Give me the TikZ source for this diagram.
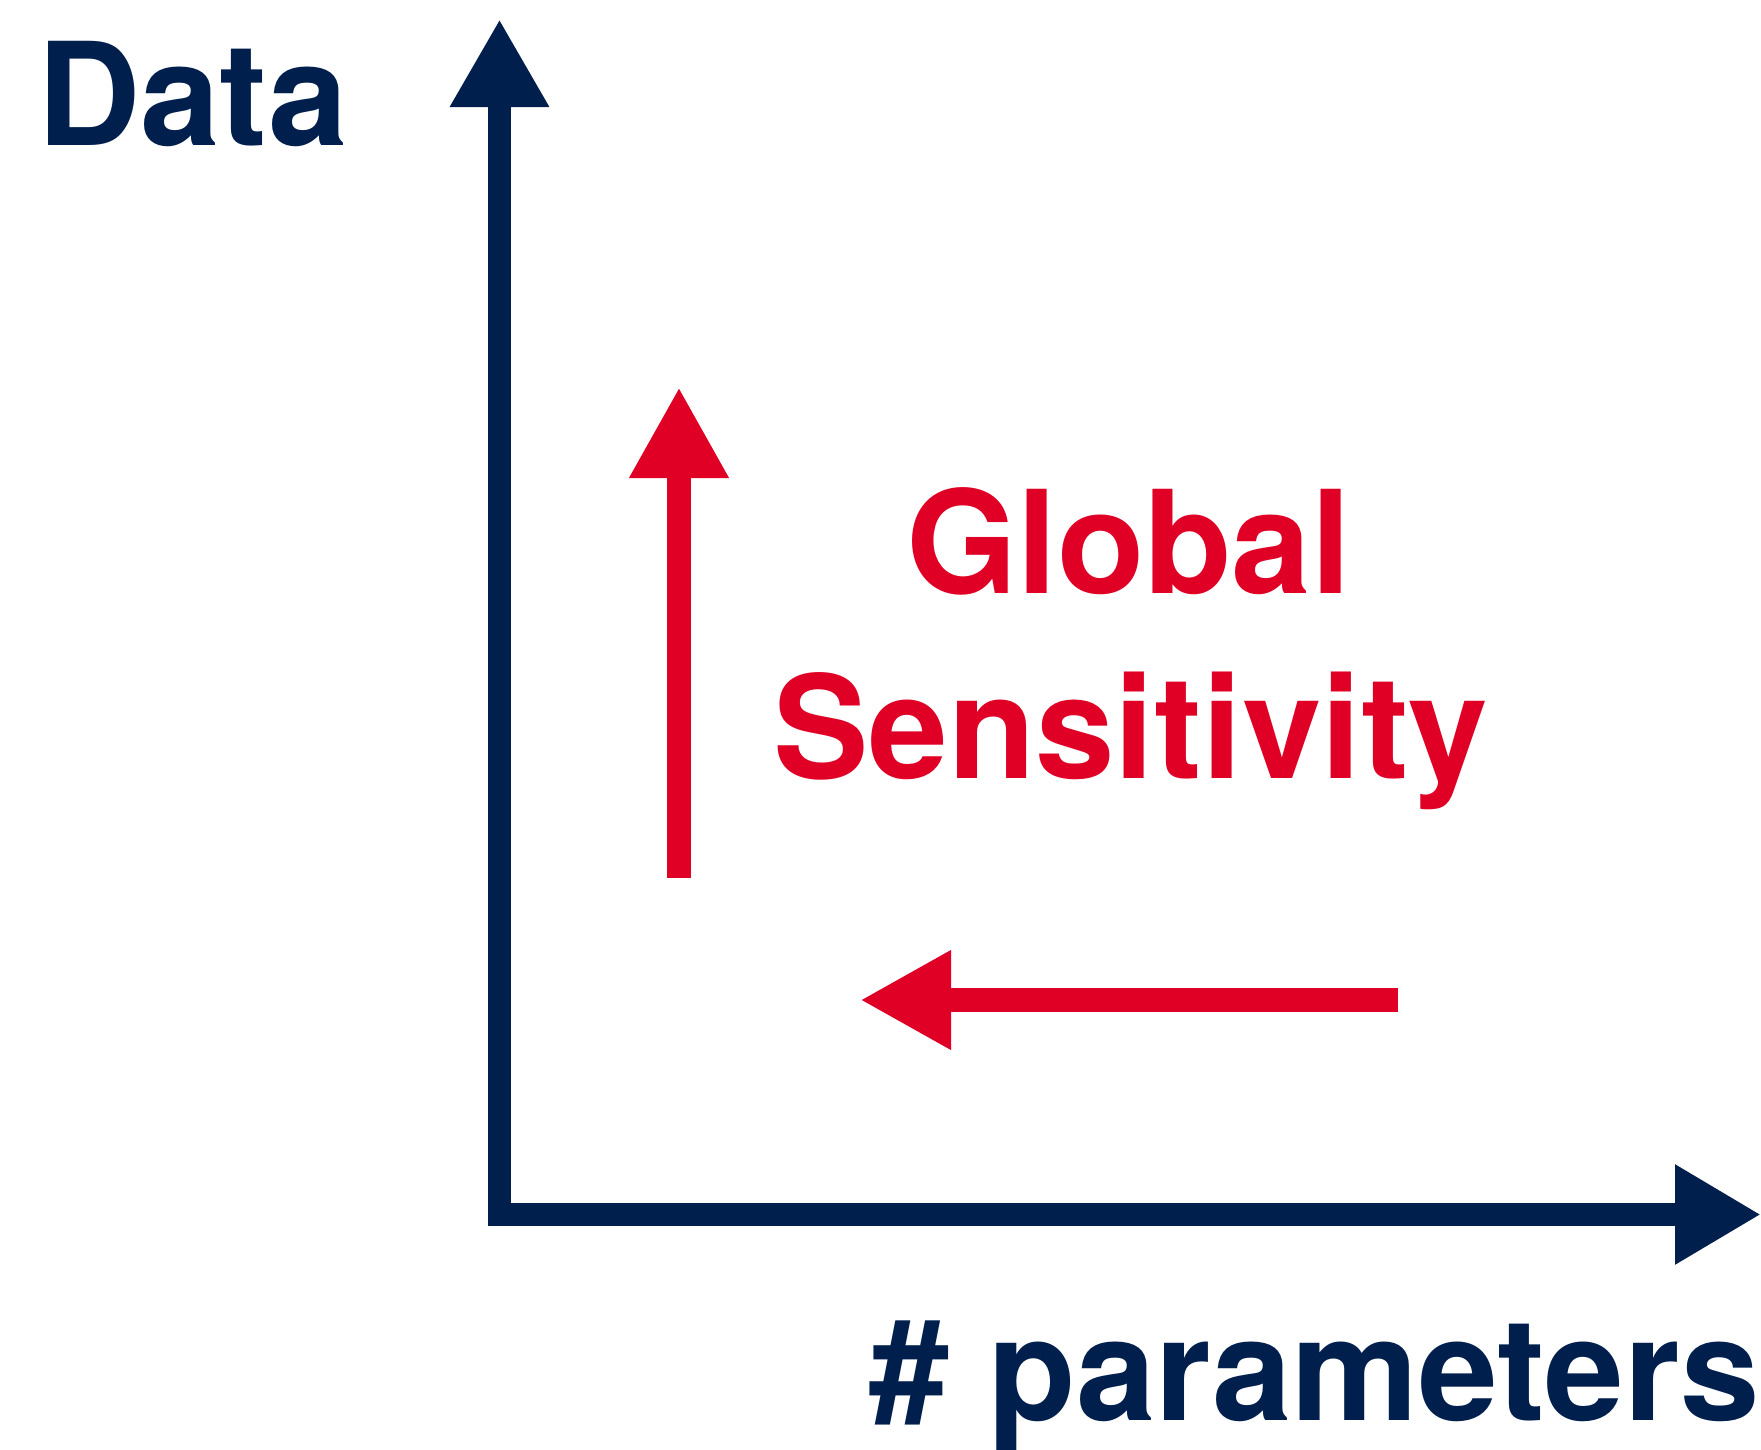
\documentclass[tikz,border=0pt]{standalone}
\usepackage{fontspec}
\setmainfont{TeX Gyre Heros}
\usetikzlibrary{arrows.meta}
\definecolor{navy}{RGB}{0,31,77}
\definecolor{sensred}{RGB}{224,0,37}
\begin{document}
\begin{tikzpicture}[x=1pt,y=-1pt,
  bigtext/.style={inner sep=0pt,font=\fontsize{143}{150}\selectfont\bfseries},
  axis/.style={draw=navy,line width=23pt,line join=miter,
    {Triangle[length=88pt,width=93pt]}-{Triangle[length=86pt,width=94pt]}},
  redarrow/.style={draw=sensred,line width=23.5pt,-{Triangle[length=91pt,width=93pt]}}]
\useasboundingbox (0,0) rectangle (1761,1449);
% axes
\coordinate (ytip) at (499.5,19);
\coordinate (origin) at (499.5,1214.5);
\coordinate (xtip) at (1761,1214.5);
\draw[axis] (ytip) -- (origin) -- (xtip);
% labels
\node[bigtext,text=navy,anchor=base west] (data) at (37,145) {Data};
\node[bigtext,text=navy,anchor=base east] (params) at (1760,1420) {\# parameters};
\node[bigtext,text=sensred,anchor=base west] (global) at (906,593) {Global};
\node[bigtext,text=sensred,anchor=base west] (sens) at (773,778) {Sensitivity};
% red arrows
\coordinate (upstart) at (679,878);
\coordinate (uptip) at (679,387);
\draw[redarrow] (upstart) -- (uptip);
\coordinate (leftstart) at (1398,1000);
\coordinate (lefttip) at (860,1000);
\draw[redarrow] (leftstart) -- (lefttip);
\end{tikzpicture}
\end{document}
